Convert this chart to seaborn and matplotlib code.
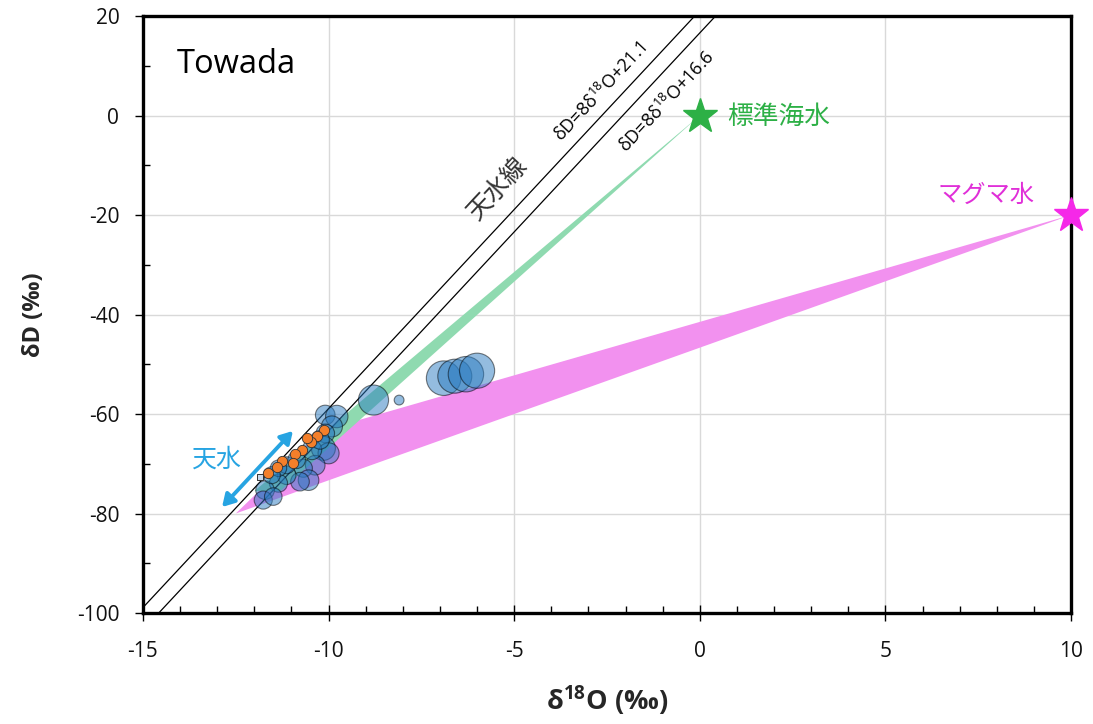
import numpy as np
import pandas as pd
import matplotlib
matplotlib.use("Agg")
import matplotlib.pyplot as plt
import seaborn as sns
from matplotlib.ticker import MultipleLocator

# ---------------- data ----------------
# blue samples: d18O, dD, marker area
blue_x = [-10.09, -9.78, -9.91, -10.09, -10.14, -10.00, -10.36, -10.68, -10.54, -10.77,
          -11.13, -11.35, -11.71, -11.76, -11.49, -11.13, -11.35, -11.53, -10.86, -10.45,
          -10.23, -8.79, -8.10, -6.90, -6.60, -6.30, -6.00]
blue_y = [-60.2, -60.5, -62.5, -63.9, -66.9, -67.9, -70.3, -70.9, -73.3, -73.6,
          -72.3, -73.9, -75.3, -77.3, -76.6, -70.3, -70.9, -72.3, -69.2, -67.2,
          -65.2, -57.2, -57.2, -52.8, -52.4, -52.0, -51.3]
blue_s = [200, 260, 230, 180, 300, 230, 200, 170, 220, 180,
          180, 170, 180, 170, 160, 150, 140, 150, 160, 200,
          180, 470, 50, 620, 600, 650, 640]

# orange samples
orange_x = [-10.12, -10.30, -10.48, -10.58, -10.72, -10.90, -10.95, -11.25, -11.40, -11.62]
orange_y = [-63.3, -64.4, -65.6, -64.9, -67.2, -68.0, -69.8, -69.5, -70.6, -71.8]

# small square sample
square_x = [-11.85]
square_y = [-72.7]

# meteoric water lines: slope, intercept
mwl_slope = [8, 8]
mwl_intercept = [21.1, 16.6]
mwl_labels = ["δD=8δ$^{18}$O+21.1", "δD=8δ$^{18}$O+16.6"]

# end members
seawater = (0.0, 0.0)
magma = (10.0, -20.0)

# mixing regions (polygon vertices)
green_x = [0.0, -12.0, -11.3]
green_y = [0.0, -75.5, -75.5]
pink_x = [10.0, -12.5, -10.2]
pink_y = [-20.0, -80.0, -63.4]

# meteoric range arrow
rain_x = [-12.87, -10.96]
rain_y = [-78.7, -63.4]

xticks = [-15, -10, -5, 0, 5, 10]
yticks = [-100, -80, -60, -40, -20, 0, 20]

# ---------------- style ----------------
sns.set_theme(style="white")
plt.rcParams["font.family"] = ["Open Sans", "Noto Sans CJK JP", "DejaVu Sans"]
plt.rcParams["mathtext.default"] = "regular"
plt.rcParams["axes.unicode_minus"] = False

fig = plt.figure(figsize=(10.93, 7.24), dpi=100)
ax = fig.add_axes([0.1308, 0.1533, 0.8491, 0.8246])

ax.set_xlim(-15, 10)
ax.set_ylim(-100, 20)
ax.set_xticks(xticks)
ax.set_yticks(yticks)
ax.xaxis.set_minor_locator(MultipleLocator(1))
ax.yaxis.set_minor_locator(MultipleLocator(10))
ax.grid(True, which="major", color="#d9d9d9", lw=1.0, zorder=0)
ax.set_axisbelow(True)
for sp in ax.spines.values():
    sp.set_color("black")
    sp.set_linewidth(2.4)
ax.tick_params(which="both", bottom=True, left=True, top=False, right=False)
ax.tick_params(axis="y", which="major", direction="out", length=6, width=1.0, color="black",
               labelsize=15, labelcolor="#111111", pad=11)
ax.tick_params(axis="x", which="major", direction="inout", length=12, width=1.0, color="black",
               labelsize=15, labelcolor="#111111", pad=14)
ax.tick_params(which="minor", direction="in", length=5, width=1.0, color="black")

# polygons
ax.fill(pink_x, pink_y, color="#f291ef", lw=0, zorder=1)
ax.fill(green_x, green_y, color="#8fdab0", lw=0, zorder=1)

# meteoric water lines
xx = np.array([-16.0, 11.0])
for k, b in zip(mwl_slope, mwl_intercept):
    sns.lineplot(x=xx, y=k * xx + b, color="black", lw=0.9, ax=ax, zorder=2)

# samples
blue_df = pd.DataFrame({"x": blue_x, "y": blue_y, "s": blue_s})
sns.scatterplot(data=blue_df, x="x", y="y", size="s", sizes=(50, 650), size_norm=(50, 650),
                color="#2a7bc0", alpha=0.5, edgecolor="black", linewidth=0.8,
                legend=False, ax=ax, zorder=3)
sns.scatterplot(x=square_x, y=square_y, marker="s", s=22, color="#c8d8ea",
                edgecolor="#333333", linewidth=0.7, ax=ax, zorder=4, legend=False)
sns.scatterplot(x=orange_x, y=orange_y, s=55, color="#f47f2a", edgecolor="#333333",
                linewidth=0.6, ax=ax, zorder=5, legend=False)

# end-member stars
ax.plot(*seawater, marker="*", ms=26, color="#2db046", mec="#2db046", zorder=6, clip_on=False)
ax.plot(*magma, marker="*", ms=26, color="#f528e8", mec="#f528e8", zorder=6, clip_on=False)

# arrow for meteoric water range
ax.annotate("", xy=(rain_x[0], rain_y[0]), xytext=(rain_x[1], rain_y[1]),
            arrowprops=dict(arrowstyle="<|-|>,head_length=0.6,head_width=0.35",
                            color="#27a4e2", lw=2.8, shrinkA=0, shrinkB=0), zorder=6)

# texts
cjk = ["Noto Sans CJK JP", "DejaVu Sans"]
ax.text(-14.1, 10.2, "Towada", fontsize=23.5, color="black", ha="left", va="center")
ax.text(-13.0, -69.2, "天水", fontsize=18, color="#27a4e2", ha="center", va="center", family=cjk)
ax.text(0.75, -0.3, "標準海水", fontsize=18.5, color="#2db046", ha="left", va="center", family=cjk)
ax.text(6.4, -16.0, "マグマ水", fontsize=17.5, color="#e02fd8", ha="left", va="center", family=cjk)
ax.text(-5.45, -14.6, "天水線", fontsize=18, color="#333333", ha="center", va="center",
        rotation=47, family=cjk)
ax.text(-2.66, 4.8, mwl_labels[0], fontsize=13, color="black", ha="center", va="center",
        rotation=47)
ax.text(-0.88, 2.8, mwl_labels[1], fontsize=13, color="black", ha="center", va="center",
        rotation=47)

ax.set_xlabel("δ$^{18}$O (‰)", fontsize=19.5, fontweight="bold", labelpad=16)
ax.set_ylabel("δD (‰)", fontsize=17, fontweight="bold", labelpad=22)

fig.savefig("out.png", dpi=100)
